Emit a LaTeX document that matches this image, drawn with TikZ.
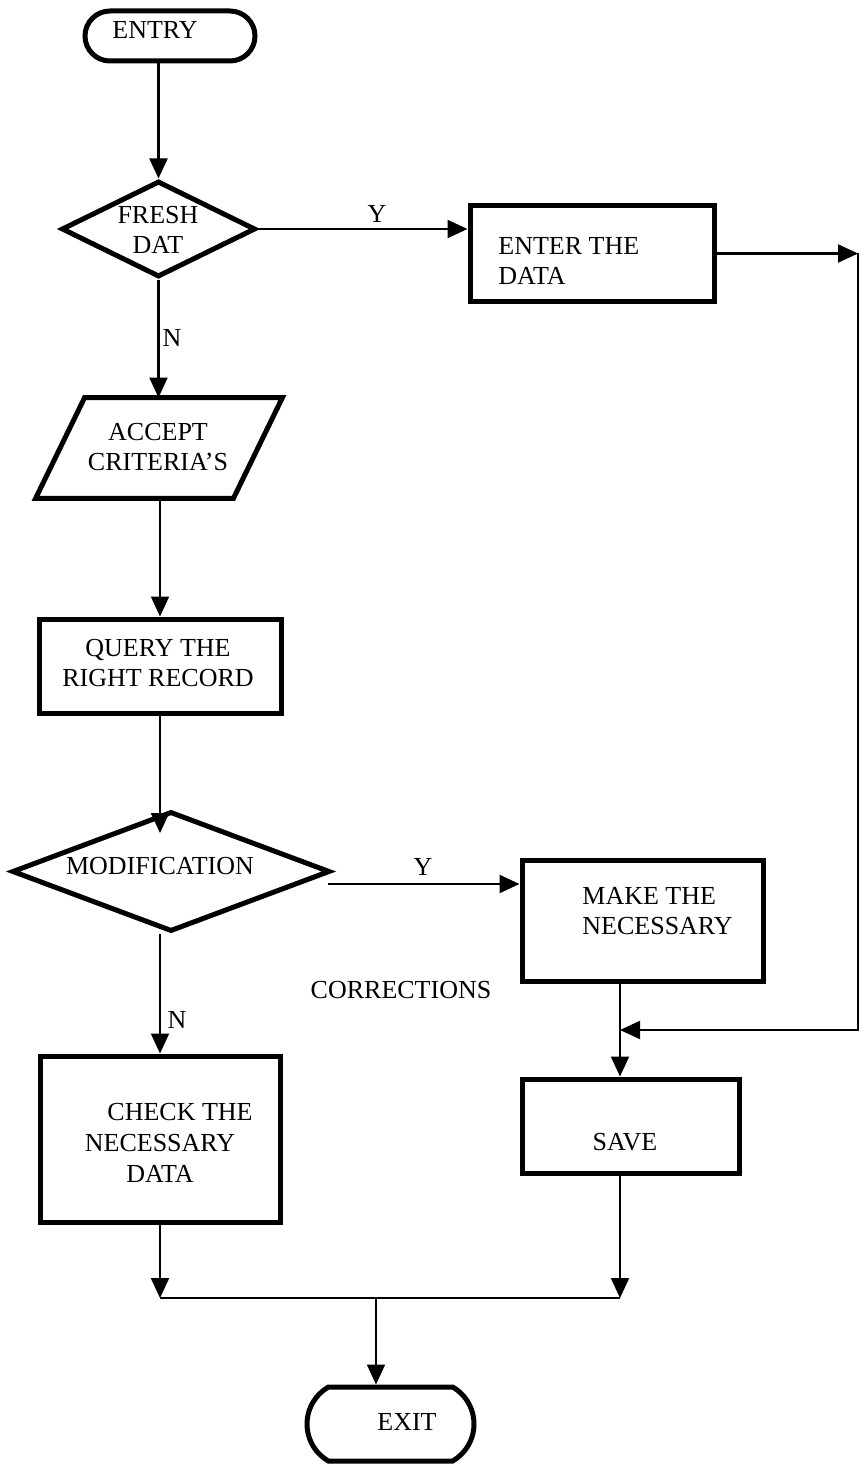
\documentclass[tikz,border=0pt]{standalone}
\usepackage{fontspec}
\setmainfont{Liberation Serif}
\usetikzlibrary{shapes.geometric,shapes.misc,arrows.meta,calc}
\begin{document}
\begin{tikzpicture}[x=0.5pt,y=-0.5pt,
  box/.style={draw,line width=2.5pt,rectangle,inner sep=0pt},
  dec/.style={draw,line width=2.5pt,diamond,inner sep=0pt},
  term/.style={draw,line width=2.5pt,rounded rectangle,inner sep=0pt},
  iobox/.style={rectangle,inner sep=0pt},
  ioline/.style={line width=2.5pt},
  txt/.style={font=\fontsize{13}{15}\selectfont,align=center,inner sep=0pt},
  arr/.style={line width=1.1pt,-{Triangle[length=10pt,width=9pt]}},
  ln/.style={line width=1.1pt}]
\useasboundingbox (0,0) rectangle (866,1466);
% shapes
\node[term,minimum width=85pt,minimum height=25pt] (entry) at (170,36) {};
\node[txt] at (155,30) {ENTRY};
\node[dec,minimum width=97pt,minimum height=48pt] (fresh) at (158.5,229) {};
\node[txt] at (158,230) {FRESH\\DAT};
\node[box,minimum width=122pt,minimum height=48pt] (enter) at (592,253.5) {};
\node[txt,align=left,anchor=west] at (498,261) {ENTER THE\\DATA};
\node[iobox,minimum width=123pt,minimum height=50pt] (accept) at (159,448) {};
\draw[ioline] ($(accept.north west)+(49,0)$) -- (accept.north east)
  -- ($(accept.south east)+(-49,0)$) -- (accept.south west) -- cycle;
\node[txt] at (158,447) {ACCEPT\\CRITERIA’S};
\node[box,minimum width=121pt,minimum height=47pt] (query) at (160,666) {};
\node[txt] at (158,663) {QUERY THE\\RIGHT RECORD};
\node[dec,minimum width=159pt,minimum height=60pt] (mod) at (171,871.5) {};
\node[txt] at (160,866) {MODIFICATION};
\node[box,minimum width=120.5pt,minimum height=60.5pt] (make) at (642.5,920.5) {};
\node[txt,align=left,anchor=west] at (582,911.5) {MAKE THE\\NECESSARY};
\node[txt] at (401,990) {CORRECTIONS};
\node[box,minimum width=120pt,minimum height=83pt] (check) at (160,1139) {};
\node[txt] at (180,1112) {CHECK THE};
\node[txt] at (160,1143) {NECESSARY};
\node[txt] at (160,1174) {DATA};
\node[box,minimum width=108.5pt,minimum height=47pt] (save) at (630.5,1126) {};
\node[txt] at (625,1142) {SAVE};
\node[term,minimum width=83.5pt,minimum height=37pt,rounded rectangle arc length=120] (exit) at (390.5,1424) {};
\node[txt] at (407,1422) {EXIT};
% labels
\node[txt] at (377,214) {Y};
\node[txt] at (172,338) {N};
\node[txt] at (423,867) {Y};
\node[txt] at (177,1020) {N};
% coordinates
\coordinate (r1) at (858,253.5);
\coordinate (r2) at (858,1030);
\coordinate (j1) at (620,1030);
\coordinate (m1) at (160,833);
\coordinate (my) at (328,884);
\coordinate (b1) at (160,1298);
\coordinate (b2) at (620,1298);
\coordinate (b3) at (376,1298);
% connectors
\draw[arr] (entry.south -| fresh.north) -- (fresh.north);
\draw[arr] (fresh.east) -- (enter.west |- fresh.east);
\draw[arr] (enter.east) -- (r1);
\draw[arr] (r1) -- (r2) -- (j1);
\draw[arr] (fresh.south) -- (fresh.south |- accept.north);
\draw[arr] (query.north |- accept.south) -- (query.north);
\draw[arr] (query.south) -- (m1);
\draw[arr] (my) -- (my -| make.west);
\draw[arr] (check.north |- mod.south) -- (check.north);
\draw[arr] (j1 |- make.south) -- (j1 |- save.north);
\draw[arr] (check.south) -- (b1);
\draw[arr] (b2 |- save.south) -- (b2);
\draw[ln] (b1) -- (b2);
\draw[arr] (b3) -- (b3 |- exit.north);
\end{tikzpicture}
\end{document}
